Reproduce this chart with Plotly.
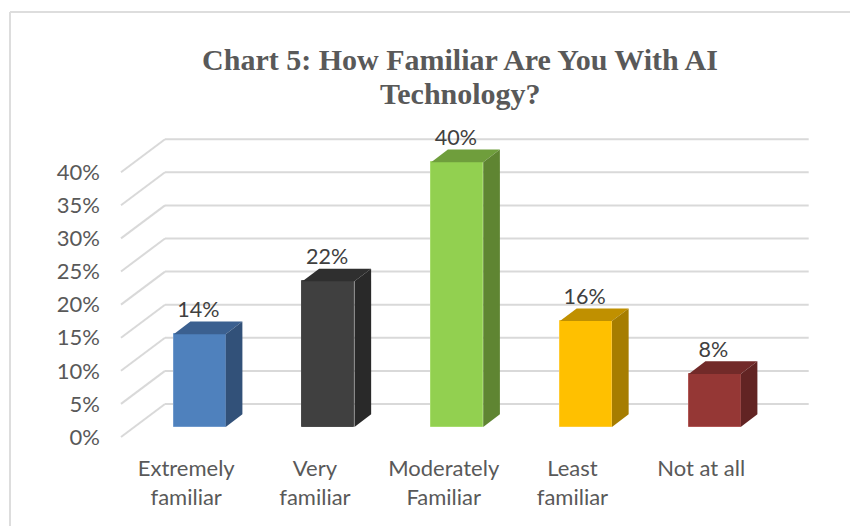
import plotly.graph_objects as go

categories = ["Extremely<br>familiar", "Very<br>familiar", "Moderately<br>Familiar", "Least<br>familiar", "Not at all"]
values = [14, 22, 40, 16, 8]
value_labels = ["14%", "22%", "40%", "16%", "8%"]
tick_values = [0, 5, 10, 15, 20, 25, 30, 35, 40]
tick_labels = ["0%", "5%", "10%", "15%", "20%", "25%", "30%", "35%", "40%"]
title_lines = ["Chart 5: How Familiar Are You With AI", "Technology?"]
front_colors = ["#4F81BD", "#404040", "#92D050", "#FFC000", "#953735"]
top_colors = ["#3B6090", "#2F2F2F", "#6F9E3C", "#C09000", "#722A29"]
side_colors = ["#325179", "#292929", "#5F8532", "#A67D00", "#622423"]
edge_colors = ["#6F99CC", "#4A4A4A", "#A6DC6C", "#FFCB33", "#B05654"]

# the page has an 8px body margin, so the figure is laid out 8px up and left of target positions
PAGE = 8
W, H = 858 - PAGE, 526 - PAGE
L, R, T, B = 101 - PAGE, 850 - PAGE, 110 - PAGE, 453 - PAGE
PX_PER_CAT = 128.75
PX_PER_UNIT = 6.62
CX0, Y0 = 199.7 - PAGE, 427.0 - PAGE
xrange_ = [(L - CX0) / PX_PER_CAT, (R - CX0) / PX_PER_CAT]
yrange_ = [(Y0 - B) / PX_PER_UNIT, (Y0 - T) / PX_PER_UNIT]

BAR_W = 52 / PX_PER_CAT
DX = 16.7 / PX_PER_CAT
DY = 12.7 / PX_PER_UNIT
FRONT_DY = -10 / PX_PER_UNIT
BACK_DY = 23 / PX_PER_UNIT
GRID_L = (121 - PAGE - CX0) / PX_PER_CAT
GRID_B = (165 - PAGE - CX0) / PX_PER_CAT
GRID_R = (808.7 - PAGE - CX0) / PX_PER_CAT
LABEL_DX = -13.5 / PX_PER_CAT

fig = go.Figure()
xs = list(range(len(values)))
fig.add_trace(go.Bar(x=xs, y=values, width=BAR_W,
                     marker=dict(color=front_colors, line=dict(color=edge_colors, width=1)),
                     showlegend=False, hoverinfo="skip"))
for i, v in enumerate(values):
    a, b = i - BAR_W / 2, i + BAR_W / 2
    fig.add_trace(go.Scatter(x=[a, b, b + DX, a + DX, a], y=[v, v, v + DY, v + DY, v],
                             fill="toself", fillcolor=top_colors[i], mode="lines",
                             line=dict(width=0), showlegend=False, hoverinfo="skip"))
    fig.add_trace(go.Scatter(x=[b, b + DX, b + DX, b, b], y=[0, DY, v + DY, v, 0],
                             fill="toself", fillcolor=side_colors[i], mode="lines",
                             line=dict(width=0), showlegend=False, hoverinfo="skip"))
fig.add_trace(go.Scatter(x=[i - 0.01 for i in xs], y=[v + DY + 1.5 for v in values],
                         text=value_labels, mode="text", textposition="middle center",
                         textfont=dict(family="Lato", size=21.5, color="#404040"),
                         cliponaxis=False, showlegend=False, hoverinfo="skip"))

shapes = []
for t in tick_values:
    shapes.append(dict(type="line", xref="x", yref="y", layer="below",
                       x0=GRID_L, y0=t + FRONT_DY, x1=GRID_B, y1=t + BACK_DY,
                       line=dict(color="#D9D9D9", width=2)))
    shapes.append(dict(type="line", xref="x", yref="y", layer="below",
                       x0=GRID_B, y0=t + BACK_DY, x1=GRID_R, y1=t + BACK_DY,
                       line=dict(color="#D9D9D9", width=2)))
# chart-area border: only the top and left edges are in the crop
bx = (10 - PAGE - L) / (R - L)
by = (B - (12 - PAGE)) / (B - T)
shapes.append(dict(type="line", xref="paper", yref="paper", layer="below",
                   x0=bx, x1=(W - L) / (R - L), y0=by, y1=by,
                   line=dict(color="#DDDDDD", width=2)))
shapes.append(dict(type="line", xref="paper", yref="paper", layer="below",
                   x0=bx, x1=bx, y0=(B - H) / (B - T), y1=by,
                   line=dict(color="#DDDDDD", width=2)))

TITLE_FONT = dict(family="Liberation Serif", size=30, color="#595959")
title_x = (460 - PAGE)
fig.update_layout(
    width=W, height=H, autosize=False,
    margin=dict(l=L, r=W - R, t=T, b=H - B, pad=0),
    paper_bgcolor="white", plot_bgcolor="rgba(0,0,0,0)",
    bargap=0, shapes=shapes, showlegend=False,
    title=dict(text="<b>" + title_lines[0] + "</b>",
               x=title_x / W, xanchor="center", y=1 - (59 - PAGE) / H, yanchor="middle",
               font=TITLE_FONT),
    annotations=[dict(text="<b>" + title_lines[1] + "</b>", xref="paper", yref="paper",
                      x=(title_x - L) / (R - L), y=(B - (93 - PAGE)) / (B - T),
                      xanchor="center", yanchor="middle", showarrow=False, font=TITLE_FONT)],
    xaxis=dict(range=xrange_, tickmode="array", tickvals=[i + LABEL_DX for i in xs], ticktext=categories,
               showgrid=False, zeroline=False, showline=False, ticks="",
               tickfont=dict(family="Lato", size=22, color="#595959"), automargin=False),
    yaxis=dict(range=yrange_, tickmode="array", tickvals=[t + FRONT_DY for t in tick_values], ticktext=tick_labels,
               showgrid=False, zeroline=False, showline=False, ticks="",
               tickfont=dict(family="Lato", size=22, color="#595959"), automargin=False),
)
fig.write_html("out.html")
